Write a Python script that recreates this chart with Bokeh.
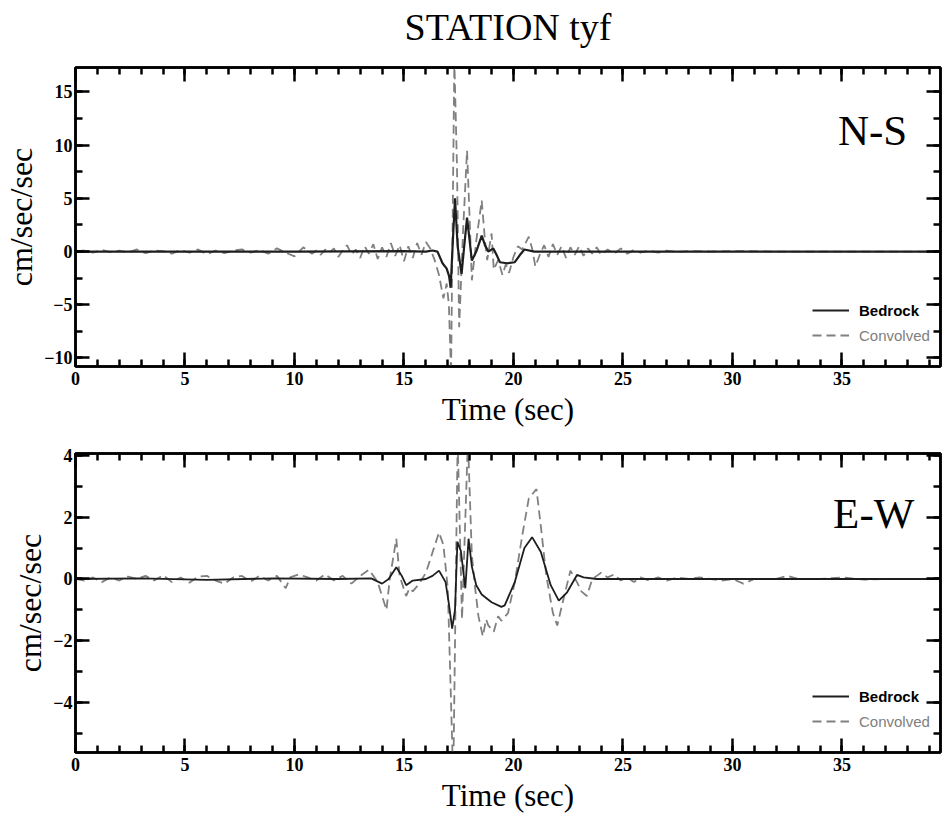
from bokeh.plotting import figure
from bokeh.models import (Range1d, SingleIntervalTicker, LinearAxis, Label, Legend, LegendItem,
                          CustomLabelingPolicy)
from bokeh.layouts import column
from bokeh.embed import file_html
from bokeh.resources import INLINE

# ---------------- data ----------------
ns_bed_t = [0, 5, 10, 15, 16.0, 16.3, 16.53, 16.76, 16.95, 17.06, 17.13, 17.22, 17.33, 17.45,
            17.63, 17.75, 17.88, 18.0, 18.1, 18.3, 18.55, 18.7, 18.85, 19.08, 19.25, 19.38,
            19.7, 20.06, 20.3, 20.5, 20.95, 22, 25, 30, 39.5]
ns_bed_v = [0, 0, 0, 0.05, 0, 0.1, 0, -1.1, -1.6, -2.3, -3.4, 0.5, 5.0, 0.5,
            -2.1, 0.5, 3.2, 1.0, -0.85, 0, 1.5, 0.6, 0, 0.3, -0.4, -1.0,
            -1.1, -1.0, -0.3, 0.2, 0, 0, 0, 0, 0]

ns_con_t = [0, 0.4, 0.8, 1.2, 1.6, 2.0, 2.4, 2.8, 3.2, 3.6, 4.0, 4.4, 4.8, 5.2, 5.6, 6.0, 6.4,
            6.8, 7.2, 7.6, 8.0, 8.4, 8.8, 9.2, 9.6, 10.0, 10.4, 10.8, 11.0, 11.2, 11.4, 11.6,
            11.8, 12.0, 12.2, 12.4, 12.6, 12.8, 13.0, 13.2, 13.4, 13.6, 13.8, 14.0, 14.2, 14.4,
            14.6, 14.8, 15.0, 15.2, 15.4, 15.6, 15.8, 16.0, 16.2, 16.4, 16.6, 16.8, 16.95,
            17.05, 17.15, 17.3, 17.42, 17.52, 17.7, 17.88, 18.0, 18.1, 18.3, 18.55, 18.7, 18.8,
            19.0, 19.1, 19.3, 19.5, 19.65, 19.8, 20.0, 20.2, 20.4, 20.7, 20.85, 21.0, 21.2,
            21.4, 21.6, 21.8, 22.0, 22.2, 22.4, 22.6, 22.8, 23.0, 23.2, 23.4, 23.6, 23.8, 24.0,
            24.3, 24.6, 24.9, 25.2, 25.5, 25.8, 26.2, 26.6, 27.0, 27.5, 28, 29, 30, 32, 35, 39.5]
ns_con_v = [0, 0.1, -0.1, 0.15, -0.05, 0.1, -0.1, 0.2, -0.15, 0.1, 0.05, -0.2, 0.15, -0.1, 0.2,
            -0.25, 0.1, -0.15, 0.1, 0.2, -0.1, 0.15, -0.2, 0.3, -0.1, -0.45, 0.4, -0.2, 0.1,
            -0.3, 0.2, -0.1, 0.3, -0.5, 0.1, 0.6, -0.3, 0.2, -0.6, 0.5, -0.2, 0.7, -0.7, 0.4,
            -0.5, 0.8, -0.4, 0.6, -0.9, 0.5, -0.6, 0.8, -0.3, 0.9, 0.3, -0.8, -2.2, -4.4, -3.0,
            -5.0, -11.5, 18, 8, -7.1, 2.0, 9.5, 3.0, -2.7, 1.0, 4.8, 1.0, -0.8,
            1.7, -1.7, -0.8, -2.2, -1.2, -2.0, -0.5, 0.5, 0.2, 1.4, 0.3, -1.4, -0.3,
            0.6, -0.5, 0.7, -0.3, 0.5, -0.6, 0.4, -0.3, 0.5, -0.4, 0.3, -0.2, 0.4, -0.3,
            0.2, -0.2, 0.3, -0.2, 0.15, -0.1, 0.1, -0.1, 0.1, -0.05, 0.05, 0, 0.05, 0, 0, 0]

ew_bed_t = [0, 3, 6, 9, 12, 13.5, 14.0, 14.3, 14.65, 14.9, 15.1, 15.4, 16.0, 16.3, 16.6, 16.9,
            17.05, 17.2, 17.33, 17.44, 17.6, 17.8, 17.95, 18.1, 18.3, 18.55, 19.0, 19.45, 19.6,
            20.06, 20.5, 20.85, 21.25, 21.7, 22.07, 22.45, 22.9, 23.2, 23.8, 26, 30, 39.5]
ew_bed_v = [0, 0.02, -0.03, 0.02, 0, 0.02, -0.15, 0, 0.38, 0.1, -0.2, -0.05, 0, 0.1, 0.27, -0.1,
            -0.8, -1.6, -1.0, 1.2, 0.9, -0.3, 1.3, 0.4, -0.2, -0.5, -0.75, -0.9, -0.85,
            -0.1, 1.0, 1.35, 0.87, -0.2, -0.7, -0.43, 0.13, 0.05, 0, 0, 0, 0]

ew_con_t = [0, 0.4, 0.8, 1.2, 1.6, 2.0, 2.4, 2.8, 3.2, 3.6, 4.0, 4.4, 4.8, 5.2, 5.6, 6.0, 6.4,
            6.8, 7.2, 7.6, 8.0, 8.4, 8.8, 9.2, 9.6, 9.8, 10.2, 10.6, 11.0, 11.4, 11.8, 12.2,
            12.6, 13.0, 13.4, 13.6, 13.8, 14.0, 14.2, 14.35, 14.5, 14.65, 14.8, 15.1, 15.25,
            15.4, 15.7, 16.0, 16.3, 16.6, 16.8, 17.0, 17.25, 17.45, 17.65, 17.92, 18.1, 18.25,
            18.4, 18.6, 18.75, 18.85, 19.1, 19.3, 19.45, 19.75, 20.06, 20.4, 20.7, 21.05, 21.25,
            21.5, 21.8, 22.0, 22.3, 22.6, 22.9, 23.1, 23.35, 23.6, 23.8, 24.0, 24.3, 24.6, 24.9,
            25.2, 25.5, 25.8, 26.2, 26.6, 27.0, 27.5, 28, 28.5, 29, 29.5, 30, 30.5, 31, 32,
            32.5, 33, 34, 35, 36, 37, 39.5]
ew_con_v = [0, -0.05, 0.05, -0.1, 0.05, -0.05, 0.08, 0, 0.1, -0.05, 0.12, -0.1, 0.05, -0.12,
            0.08, 0.1, -0.05, -0.15, 0.05, 0.1, -0.08, 0.1, -0.05, 0.1, -0.3, 0.05, 0.15, 0.05,
            -0.05, 0.15, -0.05, 0.1, -0.15, 0.1, 0.3, 0.1, -0.1, -0.55, -1.0, 0, 0.65, 1.3, 0.1,
            -0.55, -0.3, -0.4, -0.15, 0.2, 0.85, 1.5, 1.1, -0.3, -6.5, 4.5, -1.3, 4.5, 0.75,
            -0.3, -1.2, -1.85, -1.3, -1.5, -1.7, -1.2, -1.35, -1.1, -0.1, 1.4, 2.6, 2.9, 1.7,
            0.1, -1.1, -1.5, -0.6, 0.27, -0.1, -0.4, -0.55, 0.0, 0.1, 0.2, 0.05, 0.15, -0.05,
            0.05, -0.1, 0.05, -0.05, 0.05, -0.05, 0.05, 0, 0.05, 0, -0.05, 0, -0.15, 0, 0,
            0.1, 0.0, 0, 0.05, -0.02, 0, 0]

x_ticks_major = 5
title_text = "STATION tyf"
panel_names = ["N-S", "E-W"]
y_label = "cm/sec/sec"
x_label = "Time (sec)"
series_names = ["Bedrock", "Convolved"]

SERIF = "Liberation Serif"
SANS = "Liberation Sans"
BED_COLOR = "#1e1e1e"
CON_COLOR = "#808080"


def style_axis(ax, ticker, show_labels=True):
    ax.ticker = ticker
    ax.axis_line_width = 2.5
    ax.axis_line_color = "black"
    ax.major_tick_in = 14
    ax.major_tick_out = 0
    ax.minor_tick_in = 7
    ax.minor_tick_out = 0
    ax.major_tick_line_width = 2.5
    ax.minor_tick_line_width = 2.5
    ax.major_tick_line_color = "black"
    ax.minor_tick_line_color = "black"
    if show_labels:
        ax.major_label_text_font = SERIF
        ax.major_label_text_font_style = "bold"
        ax.major_label_text_font_size = "18px"
        ax.major_label_text_color = "black"
        ax.axis_label_text_font = SERIF
        ax.axis_label_text_font_style = "normal"
        ax.axis_label_text_color = "black"
    else:
        ax.major_label_policy = CustomLabelingPolicy(code="return []")
        ax.major_label_text_font_size = "1px"
        ax.major_label_standoff = 0


def make_panel(height, border_top, border_bottom, yr, y_interval, y_minor,
               bed_t, bed_v, con_t, con_v, name, name_xy, bed_lw, title=None):
    p = figure(width=945, height=height, output_backend="svg", toolbar_location=None,
               x_range=Range1d(0, 39.5), y_range=Range1d(*yr),
               min_border_left=73, min_border_right=2,
               min_border_top=border_top, min_border_bottom=border_bottom)
    p.grid.visible = False
    p.outline_line_color = "black"
    p.outline_line_width = 2.5
    p.background_fill_color = "white"
    p.border_fill_color = "white"

    xt = SingleIntervalTicker(interval=x_ticks_major, num_minor_ticks=5)
    yt = SingleIntervalTicker(interval=y_interval, num_minor_ticks=y_minor)
    style_axis(p.xaxis[0], xt)
    style_axis(p.yaxis[0], yt)
    p.xaxis[0].axis_label = x_label
    p.xaxis[0].axis_label_text_font_size = "31px"
    p.xaxis[0].major_label_standoff = 5
    p.xaxis[0].axis_label_standoff = 4
    p.yaxis[0].axis_label = y_label
    p.yaxis[0].axis_label_text_font_size = "32px"
    p.yaxis[0].major_label_standoff = 3
    p.yaxis[0].axis_label_standoff = 2

    top_ax = LinearAxis()
    style_axis(top_ax, SingleIntervalTicker(interval=x_ticks_major, num_minor_ticks=5), False)
    if title:
        # the chart title sits above the frame, as the label of the top axis
        top_ax.axis_label = title
        top_ax.axis_label_text_font = SERIF
        top_ax.axis_label_text_font_size = "38px"
        top_ax.axis_label_text_font_style = "normal"
        top_ax.axis_label_text_color = "black"
        top_ax.axis_label_standoff = 16
    p.add_layout(top_ax, "above")
    right_ax = LinearAxis()
    style_axis(right_ax, SingleIntervalTicker(interval=y_interval, num_minor_ticks=y_minor), False)
    p.add_layout(right_ax, "right")

    r_con = p.line(con_t, con_v, line_color=CON_COLOR, line_width=1.8, line_dash="9 5")
    r_bed = p.line(bed_t, bed_v, line_color=BED_COLOR, line_width=bed_lw)

    leg1 = Legend(items=[LegendItem(label=series_names[0], renderers=[r_bed])],
                  location=(737, 46), label_text_font=SANS, label_text_font_size="15px",
                  label_text_font_style="bold", label_text_color="black",
                  border_line_color=None, background_fill_alpha=0, glyph_width=37,
                  glyph_height=20, label_height=20, label_standoff=10, padding=0, margin=0)
    leg2 = Legend(items=[LegendItem(label=series_names[1], renderers=[r_con])],
                  location=(737, 21), label_text_font=SANS, label_text_font_size="15px",
                  label_text_color=CON_COLOR,
                  border_line_color=None, background_fill_alpha=0, glyph_width=37,
                  glyph_height=20, label_height=20, label_standoff=10, padding=0, margin=0)
    p.add_layout(leg1)
    p.add_layout(leg2)

    p.add_layout(Label(x=name_xy[0], y=name_xy[1], text=name, text_font=SERIF,
                       text_font_size="43px", text_align="center", text_baseline="middle",
                       text_color="black"))
    return p


p1 = make_panel(440, 67, 74, (-10.8, 17.3), 5, 2, ns_bed_t, ns_bed_v, ns_con_t, ns_con_v,
                panel_names[0], (36.4, 11.4), 2.2, title=title_text)
p2 = make_panel(380, 13, 68, (-5.6, 4.05), 2, 2, ew_bed_t, ew_bed_v, ew_con_t, ew_con_v,
                panel_names[1], (36.45, 2.1), 1.8)

layout = column(p1, p2, spacing=0)
open("out.html", "w").write(file_html(layout, INLINE))
